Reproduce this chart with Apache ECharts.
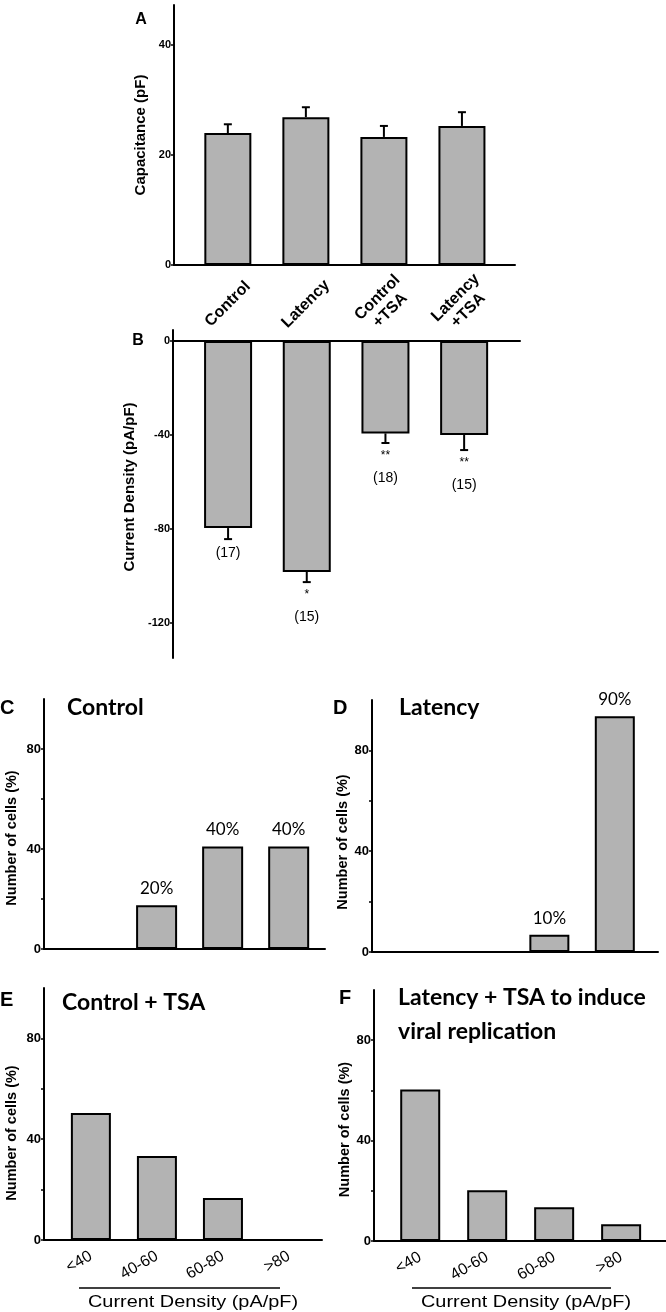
<!DOCTYPE html>
<html>
<head>
<meta charset="utf-8">
<script src="https://cdn.jsdelivr.net/npm/echarts@6/dist/echarts.min.js"></script>
<style>
html,body{margin:0;padding:0;background:#fff;}
#chart{width:666px;height:1312px;}
</style>
</head>
<body>
<div id="chart"></div>
<script>
// ---------- data ----------
const groups = ['Control', 'Latency', 'Control\n+TSA', 'Latency\n+TSA'];
const capacitance = [24.0, 26.9, 23.3, 25.3];
const capacitanceErr = [1.6, 1.8, 2.0, 2.5];
const currentDensity = [-79.6, -98.3, -39.3, -40.0];
const currentDensityErr = [4.7, 4.3, 4.1, 6.4];
const cellCounts = ['(17)', '(15)', '(18)', '(15)'];
const significance = ['', '*', '**', '**'];
const capTicks = [0, 20, 40];
const densityTicks = [0, -40, -80, -120];

const bins = ['<40', '40-60', '60-80', '>80'];
const controlPct = [0, 17.5, 41, 41];
const controlPctLabels = ['', '20%', '40%', '40%'];
const latencyPct = [0, 0, 6.8, 93.6];
const latencyPctLabels = ['', '', '10%', '90%'];
const controlTsaPct = [50.4, 33.3, 16.7, 0];
const latencyTsaPct = [60.4, 20.2, 13.4, 6.7];
const pctTicks = [0, 20, 40, 60, 80];
const pctTickLabels = [0, 40, 80];

// ---------- styles ----------
const BAR = '#b3b3b3';
const BLACK = '#000';
const AX = {color: BLACK, width: 2};

const chart = echarts.init(document.getElementById('chart'), null, {renderer: 'canvas'});

function yAx(grid, min, max, ticks, labels, name, nameGap, fontSize, nameSize, namePad) {
  return {
    type: 'value', gridIndex: grid, min: min, max: max,
    axisLine: {show: true, onZero: false, lineStyle: AX},
    splitLine: {show: false},
    axisTick: {show: true, customValues: ticks, length: 3, lineStyle: {color: BLACK, width: 1.5}},
    axisLabel: {customValues: labels, color: BLACK, fontWeight: 'bold', fontSize: fontSize,
      fontFamily: 'Liberation Sans Narrow, Liberation Sans, Arial', margin: 3},
    name: name, nameLocation: 'middle', nameGap: nameGap,
    nameTextStyle: {color: BLACK, fontWeight: 'bold', fontSize: nameSize, fontFamily: 'Liberation Sans, Arial', padding: namePad || 0}
  };
}
function xAx(grid, min, max, labelOpt) {
  return {
    type: 'value', gridIndex: grid, min: min, max: max,
    axisLine: {show: true, onZero: true, lineStyle: AX},
    splitLine: {show: false},
    axisTick: {show: false},
    axisLabel: labelOpt || {show: false}
  };
}
function barSeries(idx, values, width, labels) {
  const s = {
    type: 'bar', xAxisIndex: idx, yAxisIndex: idx,
    data: values.map((v, i) => [i, v]),
    barWidth: width,
    itemStyle: {color: BAR, borderColor: BLACK, borderWidth: 2},
    emphasis: {disabled: true},
    z: 2
  };
  if (labels) {
    s.label = {show: true, position: 'top', distance: 8,
      formatter: p => labels[p.dataIndex], color: BLACK, fontSize: 17, fontFamily: 'Lato, Open Sans'};
  }
  return s;
}
function errRender(params, api) {
  const x = api.value(0), y = api.value(1), e = api.value(2);
  const end = y >= 0 ? y + e : y - e;
  const p0 = api.coord([x, y]);
  const p1 = api.coord([x, end]);
  const hw = 4;
  return {type: 'group', children: [
    {type: 'line', shape: {x1: p0[0], y1: p0[1], x2: p1[0], y2: p1[1]}, style: {stroke: BLACK, lineWidth: 2}},
    {type: 'line', shape: {x1: p1[0] - hw, y1: p1[1], x2: p1[0] + hw, y2: p1[1]}, style: {stroke: BLACK, lineWidth: 2}}
  ]};
}
function noteRender(params, api) {
  const i = params.dataIndex;
  const x = api.value(0), y = api.value(1), e = api.value(2);
  const p1 = api.coord([x, y - e]);
  const kids = [];
  const hasSig = significance[i] !== '';
  if (hasSig) {
    kids.push({type: 'text', x: p1[0], y: p1[1] + 13,
      style: {text: significance[i], align: 'center', verticalAlign: 'middle', font: '12px "Liberation Sans", Arial', fill: BLACK}});
  }
  kids.push({type: 'text', x: p1[0], y: p1[1] + (hasSig ? 35 : 14),
    style: {text: cellCounts[i], align: 'center', verticalAlign: 'middle', font: '14px "Liberation Sans Narrow", "Liberation Sans", Arial', fill: BLACK}});
  return {type: 'group', children: kids};
}

const bottomLabel = {customValues: [0, 1, 2, 3], formatter: v => bins[Math.round(v)], rotate: 30,
  margin: 15, color: BLACK, fontSize: 16, fontFamily: 'Liberation Sans, Arial'};

const option = {
  backgroundColor: '#fff',
  animation: false,
  grid: [
    {left: 174, top: 5, width: 341, height: 260},
    {left: 173, top: 330, width: 347, height: 328},
    {left: 44, top: 699, width: 281, height: 250},
    {left: 372, top: 700, width: 286, height: 252},
    {left: 44, top: 988, width: 278, height: 252},
    {left: 374, top: 990, width: 292, height: 251}
  ],
  xAxis: [
    xAx(0, -0.69, 3.68, {customValues: [0, 1, 2, 3], formatter: v => groups[Math.round(v)], rotate: 45,
      align: 'center', verticalAlign: 'middle', margin: 39, color: BLACK, fontWeight: 'bold', fontSize: 16,
      lineHeight: 18, fontFamily: 'Liberation Sans, Arial'}),
    xAx(1, -0.70, 3.71),
    xAx(2, -0.705, 3.55),
    xAx(3, -0.71, 3.66),
    xAx(4, -0.71, 3.5, bottomLabel),
    xAx(5, -0.69, 3.67, bottomLabel)
  ],
  yAxis: [
    yAx(0, 0, 47.3, capTicks, capTicks, 'Capacitance (pF)', 25, 11, 15),
    yAx(1, -134.9, 4.7, densityTicks, densityTicks, 'Current Density (pA/pF)', 27, 11, 15, [0, 0, 0, 14]),
    yAx(2, 0, 100, pctTicks, pctTickLabels, 'Number of cells (%)', 25, 13, 14.5, [0, 28, 0, 0]),
    yAx(3, 0, 100, pctTicks, pctTickLabels, 'Number of cells (%)', 20, 13, 14.5, [0, 32, 0, 0]),
    yAx(4, 0, 100, pctTicks, pctTickLabels, 'Number of cells (%)', 25, 13, 14.5, [0, 38, 0, 0]),
    yAx(5, 0, 100, pctTicks, pctTickLabels, 'Number of cells (%)', 22, 13, 14.5, [0, 28, 0, 0])
  ],
  series: [
    barSeries(0, capacitance, 47),
    {type: 'custom', xAxisIndex: 0, yAxisIndex: 0, renderItem: errRender, z: 3,
      data: capacitance.map((v, i) => [i, v, capacitanceErr[i]])},
    barSeries(1, currentDensity, 48),
    {type: 'custom', xAxisIndex: 1, yAxisIndex: 1, renderItem: errRender, z: 3,
      data: currentDensity.map((v, i) => [i, v, currentDensityErr[i]])},
    {type: 'custom', xAxisIndex: 1, yAxisIndex: 1, renderItem: noteRender, z: 3,
      data: currentDensity.map((v, i) => [i, v, currentDensityErr[i]])},
    barSeries(2, controlPct, 41, controlPctLabels),
    barSeries(3, latencyPct, 40, latencyPctLabels),
    barSeries(4, controlTsaPct, 40),
    barSeries(5, latencyTsaPct, 40)
  ],
  graphic: [
    {type: 'text', x: 141, y: 20, style: {text: 'A', font: 'bold 16px "Liberation Sans", Arial', fill: BLACK, align: 'center', verticalAlign: 'middle'}},
    {type: 'text', x: 138, y: 341, style: {text: 'B', font: 'bold 16px "Liberation Sans", Arial', fill: BLACK, align: 'center', verticalAlign: 'middle'}},
    {type: 'text', x: 0, y: 708, style: {text: 'C', font: 'bold 20px "Liberation Sans", Arial', fill: BLACK, align: 'left', verticalAlign: 'middle'}},
    {type: 'text', x: 333, y: 708, style: {text: 'D', font: 'bold 20px "Liberation Sans", Arial', fill: BLACK, align: 'left', verticalAlign: 'middle'}},
    {type: 'text', x: 0, y: 1000, style: {text: 'E', font: 'bold 20px "Liberation Sans", Arial', fill: BLACK, align: 'left', verticalAlign: 'middle'}},
    {type: 'text', x: 339, y: 998, style: {text: 'F', font: 'bold 20px "Liberation Sans", Arial', fill: BLACK, align: 'left', verticalAlign: 'middle'}},
    {type: 'text', x: 67, y: 708, style: {text: 'Control', font: 'bold 23px Lato', fill: BLACK, align: 'left', verticalAlign: 'middle'}},
    {type: 'text', x: 399, y: 708, style: {text: 'Latency', font: 'bold 23px Lato', fill: BLACK, align: 'left', verticalAlign: 'middle'}},
    {type: 'text', x: 62, y: 1003, style: {text: 'Control + TSA', font: 'bold 23px Lato', fill: BLACK, align: 'left', verticalAlign: 'middle'}},
    {type: 'text', x: 398, y: 998, style: {text: 'Latency + TSA to induce', font: 'bold 23px Lato', fill: BLACK, align: 'left', verticalAlign: 'middle'}},
    {type: 'text', x: 398, y: 1032, style: {text: 'viral replication', font: 'bold 23px Lato', fill: BLACK, align: 'left', verticalAlign: 'middle'}},
    {type: 'line', shape: {x1: 79, y1: 1288, x2: 280, y2: 1288}, style: {stroke: BLACK, lineWidth: 1.5}},
    {type: 'line', shape: {x1: 412, y1: 1288, x2: 611, y2: 1288}, style: {stroke: BLACK, lineWidth: 1.5}},
    {type: 'text', x: 193, y: 1302, scaleX: 1.17, style: {text: 'Current Density (pA/pF)', font: '17px "Liberation Sans", Arial', fill: BLACK, align: 'center', verticalAlign: 'middle'}},
    {type: 'text', x: 526, y: 1302, scaleX: 1.17, style: {text: 'Current Density (pA/pF)', font: '17px "Liberation Sans", Arial', fill: BLACK, align: 'center', verticalAlign: 'middle'}}
  ]
};
chart.setOption(option);
</script>
</body>
</html>
